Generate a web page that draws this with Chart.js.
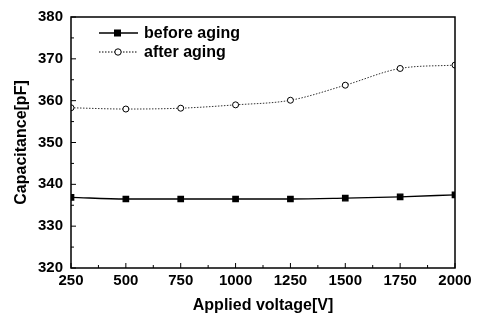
<!DOCTYPE html>
<html>
<head>
<meta charset="utf-8">
<script src="https://cdn.jsdelivr.net/npm/chart.js@4/dist/chart.umd.min.js"></script>
<style>
  html, body { margin: 0; padding: 0; background: #fff; }
  #wrap { width: 477px; height: 315px; }
</style>
</head>
<body>
<div id="wrap"><canvas id="chart" width="477" height="315"></canvas></div>
<script>
// data
const voltages = [250, 500, 750, 1000, 1250, 1500, 1750, 2000];
const beforeAging = [336.9, 336.5, 336.5, 336.5, 336.5, 336.7, 337.0, 337.5];
const afterAging = [358.3, 358.0, 358.2, 359.0, 360.1, 363.7, 367.7, 368.5];
const xTicks = [250, 500, 750, 1000, 1250, 1500, 1750, 2000];
const yTicks = [320, 330, 340, 350, 360, 370, 380];
const seriesNames = ['before aging', 'after aging'];

const FONT = 'Liberation Sans, Arial, sans-serif';
const PLOT = { left: 71, right: 455, top: 15, bottom: 268 };
const PAD_LEFT = 8;

// frame, inward ticks and the legend
const framePlugin = {
    id: 'frame',
    afterDraw(chart) {
        const ctx = chart.ctx;
        const a = chart.chartArea;
        const xs = chart.scales.x;
        const ys = chart.scales.y;
        ctx.save();
        ctx.strokeStyle = '#000';
        ctx.lineWidth = 1.5;
        ctx.strokeRect(a.left, a.top, a.right - a.left, a.bottom - a.top);

        ctx.lineWidth = 1;
        ctx.beginPath();
        xTicks.forEach((v, i) => {
            const px = xs.getPixelForValue(v);
            ctx.moveTo(px, a.bottom); ctx.lineTo(px, a.bottom - 5);
            if (i < xTicks.length - 1) {
                const mx = xs.getPixelForValue((v + xTicks[i + 1]) / 2);
                ctx.moveTo(mx, a.bottom); ctx.lineTo(mx, a.bottom - 3);
            }
        });
        yTicks.forEach((v, i) => {
            const py = ys.getPixelForValue(v);
            ctx.moveTo(a.left, py); ctx.lineTo(a.left + 5, py);
            if (i < yTicks.length - 1) {
                const my = ys.getPixelForValue((v + yTicks[i + 1]) / 2);
                ctx.moveTo(a.left, my); ctx.lineTo(a.left + 3, my);
            }
        });
        ctx.stroke();

        // legend
        ctx.font = 'bold 16px ' + FONT;
        ctx.fillStyle = '#000';
        ctx.textBaseline = 'middle';
        const rows = [33, 52];
        chart.data.datasets.forEach((ds, i) => {
            const y = rows[i];
            ctx.beginPath();
            ctx.setLineDash(ds.borderDash || []);
            ctx.lineWidth = ds.borderWidth;
            ctx.moveTo(99, y); ctx.lineTo(138, y);
            ctx.stroke();
            ctx.setLineDash([]);
            ctx.lineWidth = 1;
            if (ds.pointStyle === 'rect') {
                ctx.fillRect(114, y - 3.5, 7, 7);
            } else {
                ctx.beginPath();
                ctx.fillStyle = '#fff';
                ctx.arc(118, y, 3.2, 0, Math.PI * 2);
                ctx.fill();
                ctx.stroke();
                ctx.fillStyle = '#000';
            }
            ctx.fillText(ds.label, 144, y + 1);
        });
        ctx.restore();
    }
};

new Chart(document.getElementById('chart'), {
    type: 'line',
    data: {
        labels: voltages,
        datasets: [
            {
                label: seriesNames[0],
                data: voltages.map((v, i) => ({ x: v, y: beforeAging[i] })),
                borderColor: '#000',
                borderWidth: 1.3,
                pointStyle: 'rect',
                pointRadius: 3.8,
                pointBackgroundColor: '#000',
                pointBorderColor: '#000',
                cubicInterpolationMode: 'monotone'
            },
            {
                label: seriesNames[1],
                data: voltages.map((v, i) => ({ x: v, y: afterAging[i] })),
                borderColor: '#333',
                borderWidth: 1,
                borderDash: [1.5, 1.5],
                pointStyle: 'circle',
                pointRadius: 3,
                pointBackgroundColor: '#fff',
                pointBorderColor: '#000',
                pointBorderWidth: 1,
                cubicInterpolationMode: 'monotone'
            }
        ]
    },
    options: {
        responsive: false,
        animation: false,
        layout: { padding: { top: PLOT.top, right: 477 - PLOT.right, left: PAD_LEFT, bottom: 0 } },
        plugins: { legend: { display: false }, tooltip: { enabled: false } },
        scales: {
            x: {
                type: 'linear',
                min: 250,
                max: 2000,
                afterBuildTicks: (s) => { s.ticks = xTicks.map(v => ({ value: v })); },
                afterFit: (s) => { s.height = 315 - PLOT.bottom; },
                grid: { display: false, drawTicks: false },
                border: { display: false },
                ticks: { color: '#000', font: { family: FONT, size: 15, weight: 'bold' }, padding: 4, maxRotation: 0, callback: (v) => String(v) },
                title: { display: true, text: 'Applied voltage[V]', color: '#000', font: { family: FONT, size: 16, weight: 'bold' }, padding: { top: 4, bottom: 0 } }
            },
            y: {
                min: 320,
                max: 380,
                afterBuildTicks: (s) => { s.ticks = yTicks.map(v => ({ value: v })); },
                afterFit: (s) => { s.width = PLOT.left - PAD_LEFT; },
                grid: { display: false, drawTicks: false },
                border: { display: false },
                ticks: { color: '#000', font: { family: FONT, size: 15, weight: 'bold' }, padding: 8 },
                title: { display: true, text: 'Capacitance[pF]', color: '#000', font: { family: FONT, size: 16, weight: 'bold' }, padding: { bottom: 2 } }
            }
        }
    },
    plugins: [framePlugin]
});
</script>
</body>
</html>
